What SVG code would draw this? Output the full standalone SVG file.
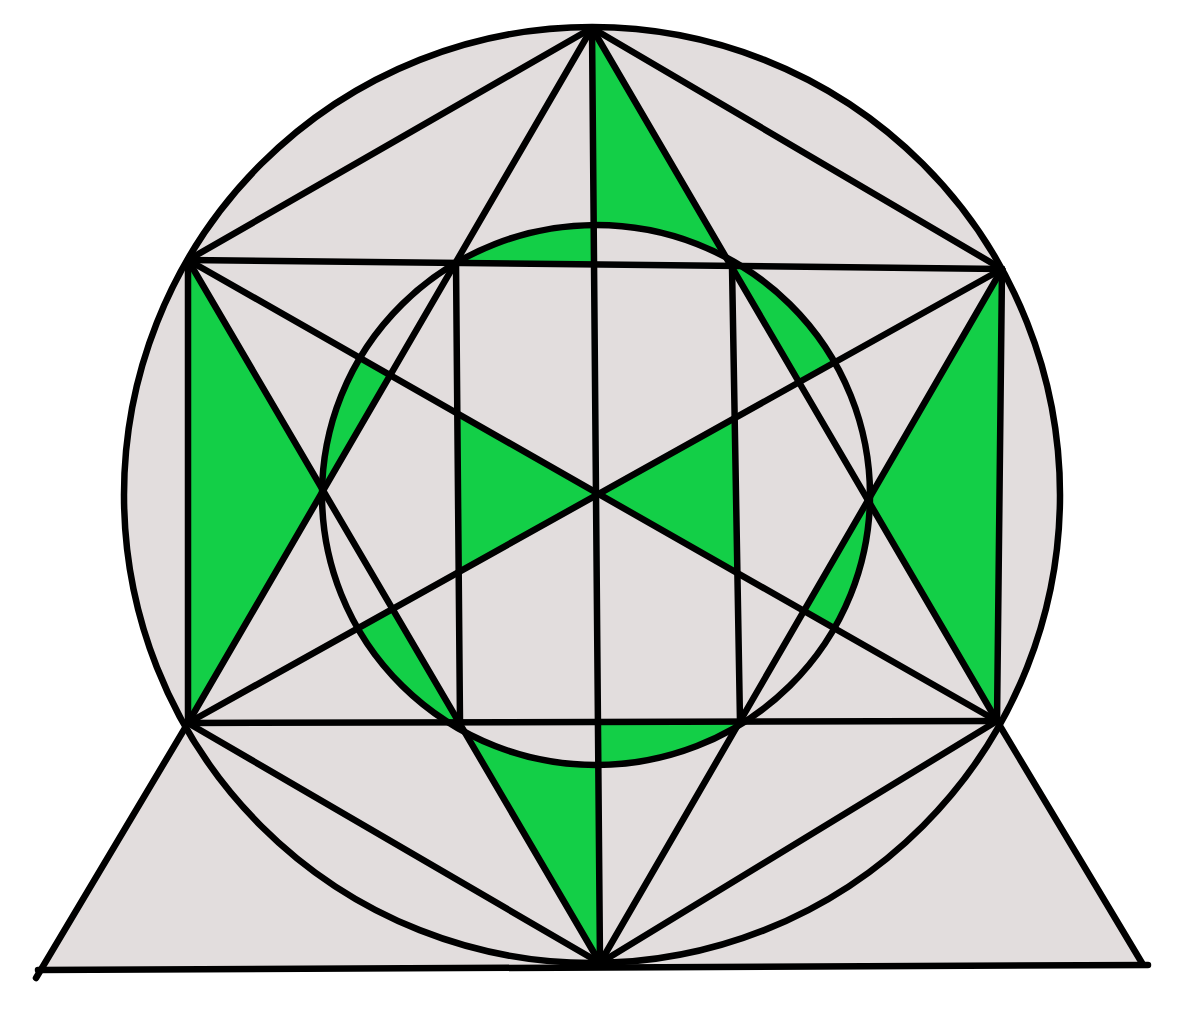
<svg xmlns="http://www.w3.org/2000/svg" width="1200" height="1009" viewBox="0 0 1200 1009">
<style>
.ln{stroke:#000;stroke-width:6.5;stroke-linecap:round;stroke-linejoin:round;fill:none}
.gr{fill:#13cf47;stroke:none}
.gy{fill:#e2dddd}
</style>
<defs>
<clipPath id="inE"><ellipse cx="596" cy="495" rx="274" ry="270"/></clipPath>
<clipPath id="outE"><path clip-rule="evenodd" d="M0 0H1200V1009H0Z M322 495 a274 270 0 1 0 548 0 a274 270 0 1 0 -548 0Z"/></clipPath>
</defs>
<rect width="1200" height="1009" fill="#fff"/>
<g id="fills">
<polygon class="gy" points="188,723 38,972 1144,964 997,721"/>
<circle class="gy" cx="592" cy="495" r="468"/>
</g>
<g id="green">
<polygon class="gr" clip-path="url(#outE)" points="592,28 594.3,300 751,300"/>
<polygon class="gr" clip-path="url(#inE)" points="400,150 593,150 594.4,264.5 400,262.3"/>
<polygon class="gr" clip-path="url(#inE)" points="731.6,266.5 920,268.1 920,314.6 799,382"/>
<polygon class="gr" clip-path="url(#inE)" points="804.3,610.4 897.2,450 950,450 950,693"/>
<polygon class="gr" clip-path="url(#inE)" points="598,722.3 800,721.5 800,900 599.5,900"/>
<polygon class="gr" clip-path="url(#outE)" points="600,963 597.75,700 446,700"/>
<polygon class="gr" clip-path="url(#inE)" points="392.2,608.4 300,659.7 300,800 504.5,800"/>
<polygon class="gr" clip-path="url(#inE)" points="390.1,374.9 250,295.3 250,560 282.3,560"/>
<polygon class="gr" points="458.3,413.7 459.4,571 598.5,493.5"/>
<polygon class="gr" points="734.6,417.8 737.3,572.3 598.5,493.5"/>
<polygon class="gr" points="188,260 188,723 323,488"/>
<polygon class="gr" points="1002,269 997,721 868,498"/>
</g>
<g id="lines" class="ln">
<circle cx="592" cy="495" r="468"/>
<ellipse cx="596" cy="495" rx="274" ry="270"/>
<line x1="592" y1="28" x2="188" y2="260"/>
<line x1="592" y1="28" x2="1002" y2="269"/>
<line x1="600" y1="963" x2="188" y2="723"/>
<line x1="600" y1="963" x2="997" y2="721"/>
<line x1="188" y1="260" x2="1002" y2="269"/>
<line x1="188" y1="723" x2="997" y2="721"/>
<line x1="188" y1="260" x2="188" y2="723"/>
<line x1="1002" y1="269" x2="997" y2="721"/>
<line x1="592" y1="28" x2="188" y2="723"/>
<line x1="592" y1="28" x2="997" y2="721"/>
<line x1="600" y1="963" x2="188" y2="260"/>
<line x1="600" y1="963" x2="1002" y2="269"/>
<line x1="188" y1="260" x2="997" y2="721"/>
<line x1="1002" y1="269" x2="188" y2="723"/>
<line x1="592" y1="28" x2="600" y2="963"/>
<line x1="456" y1="262.9" x2="460" y2="722.5"/>
<line x1="732" y1="266" x2="740" y2="721.5"/>
<line x1="188" y1="723" x2="36" y2="978"/>
<line x1="997" y1="721" x2="1142" y2="963"/>
<line x1="38" y1="970" x2="1148" y2="965"/>
</g>
</svg>
